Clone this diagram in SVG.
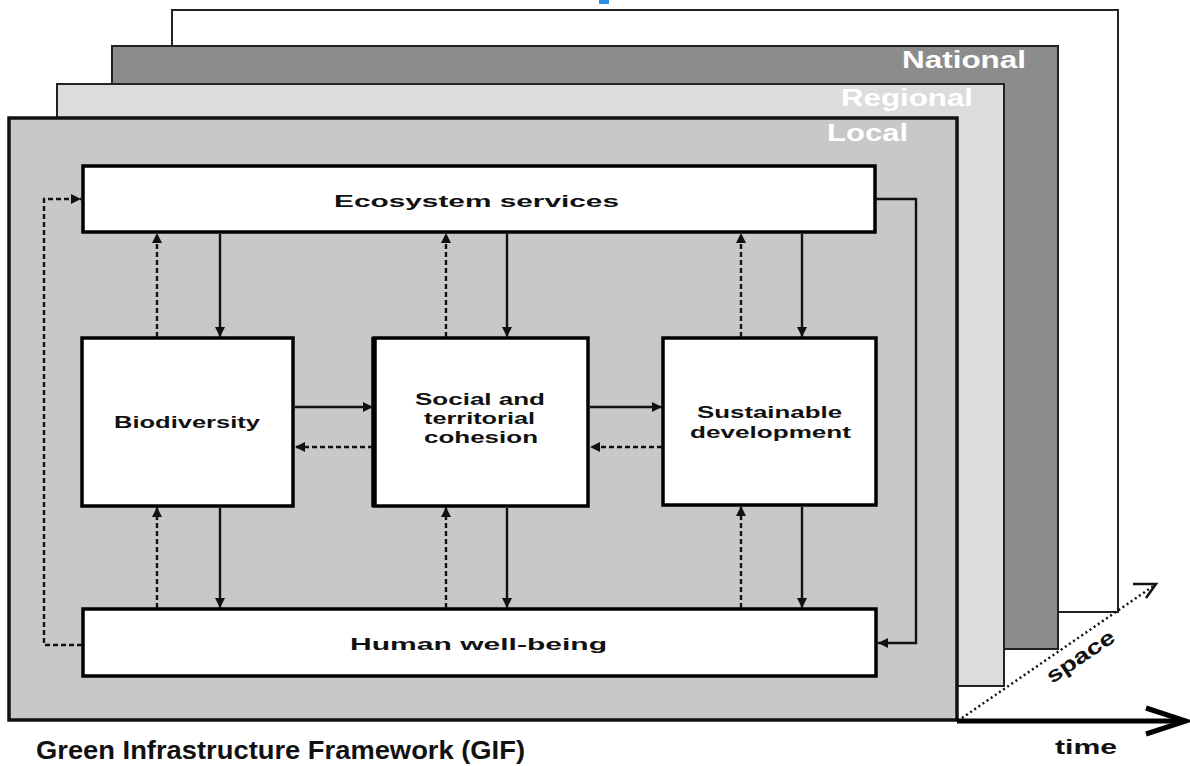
<svg xmlns="http://www.w3.org/2000/svg" width="1190" height="766" viewBox="0 0 1190 766">
  <style>
    text { font-family: "Liberation Sans", Arial, sans-serif; font-weight: bold; }
    .layer { stroke: #222; stroke-width: 2; }
    .box { fill: #fff; stroke: #000; stroke-width: 3.5; }
    .lbl { fill: #111; font-size: 17px; }
    .lvl { fill: #fff; font-size: 23px; }
    .solid { fill: none; stroke: #111; stroke-width: 2.4; }
    .dash { fill: none; stroke: #111; stroke-width: 2.4; stroke-dasharray: 5 3; }
  </style>
  <defs>
    <marker id="tri" viewBox="0 0 10 10" refX="10" refY="5" markerWidth="10" markerHeight="10" markerUnits="userSpaceOnUse" orient="auto">
      <path d="M0,0 L10,5 L0,10 z" fill="#111"/>
    </marker>
  </defs>

  <rect x="0" y="0" width="1190" height="766" fill="#fff"/>
  <rect x="599" y="0" width="10" height="4" fill="#2b8fe3"/>

  <!-- scale layers, back to front -->
  <g id="layer-back">
    <rect class="layer" x="172" y="10" width="946" height="602" fill="#fff" stroke="#555"/>
  </g>
  <g id="layer-national">
    <rect class="layer" x="112" y="46" width="946" height="603" fill="#8c8c8c"/>
    <text class="lvl" x="902" y="68" textLength="124" lengthAdjust="spacingAndGlyphs">National</text>
  </g>
  <g id="layer-regional">
    <rect class="layer" x="57" y="84" width="947" height="602" fill="#dcdcdc"/>
    <text class="lvl" x="841" y="106" textLength="132" lengthAdjust="spacingAndGlyphs" fill="#f6f6f6">Regional</text>
  </g>
  <g id="layer-local">
    <rect x="9" y="118" width="948" height="602" fill="#c8c8c8" stroke="#111" stroke-width="3.5"/>
    <text class="lvl" x="827" y="141" textLength="81" lengthAdjust="spacingAndGlyphs" fill="#f2f2f2">Local</text>
  </g>

  <!-- axes -->
  <g id="axes">
    <line x1="957" y1="721" x2="1184" y2="721" stroke="#000" stroke-width="5"/>
    <polyline points="1146,708 1186,721 1146,734" fill="none" stroke="#000" stroke-width="5" stroke-linejoin="miter"/>
    <line x1="962" y1="718" x2="1155" y2="585" stroke="#111" stroke-width="2.5" stroke-dasharray="2 3"/>
    <polyline points="1133,584 1156,584 1146,598" fill="none" stroke="#111" stroke-width="2.5"/>
    <text x="1055" y="754" font-size="20" fill="#111" textLength="62" lengthAdjust="spacingAndGlyphs">time</text>
    <text x="1052" y="684" font-size="21" fill="#111" textLength="78" lengthAdjust="spacingAndGlyphs" transform="rotate(-34 1052 684)">space</text>
  </g>

  <!-- nodes -->
  <g id="node-ecosystem">
    <rect class="box" x="83" y="166" width="792" height="66"/>
    <text class="lbl" x="334" y="207" font-size="18" textLength="285" lengthAdjust="spacingAndGlyphs">Ecosystem services</text>
  </g>
  <g id="node-biodiversity">
    <rect class="box" x="82" y="338" width="211" height="168"/>
    <text class="lbl" x="114" y="428" textLength="146" lengthAdjust="spacingAndGlyphs">Biodiversity</text>
  </g>
  <g id="node-social">
    <rect class="box" x="374" y="338" width="214" height="168"/>
    <line x1="374" y1="337" x2="374" y2="507" stroke="#000" stroke-width="5.5"/>
    <text class="lbl" x="415" y="405" textLength="130" lengthAdjust="spacingAndGlyphs">Social and</text>
    <text class="lbl" x="424" y="424" textLength="111" lengthAdjust="spacingAndGlyphs">territorial</text>
    <text class="lbl" x="424" y="443" textLength="114" lengthAdjust="spacingAndGlyphs">cohesion</text>
  </g>
  <g id="node-sustainable">
    <rect class="box" x="663" y="338" width="213" height="167"/>
    <text class="lbl" x="697" y="418" textLength="145" lengthAdjust="spacingAndGlyphs">Sustainable</text>
    <text class="lbl" x="690" y="438" textLength="161" lengthAdjust="spacingAndGlyphs">development</text>
  </g>
  <g id="node-wellbeing">
    <rect class="box" x="83" y="609" width="793" height="67"/>
    <text class="lbl" x="350" y="650" textLength="257" lengthAdjust="spacingAndGlyphs">Human well-being</text>
  </g>

  <!-- connectors -->
  <g id="connectors">
    <!-- ecosystem services down to the three pillars -->
    <line class="solid" x1="220" y1="234" x2="220" y2="337" marker-end="url(#tri)"/>
    <line class="solid" x1="507" y1="234" x2="507" y2="337" marker-end="url(#tri)"/>
    <line class="solid" x1="802" y1="234" x2="802" y2="337" marker-end="url(#tri)"/>
    <!-- pillars back up to ecosystem services -->
    <line class="dash" x1="157" y1="337" x2="157" y2="233" marker-end="url(#tri)"/>
    <line class="dash" x1="446" y1="337" x2="446" y2="233" marker-end="url(#tri)"/>
    <line class="dash" x1="741" y1="337" x2="741" y2="233" marker-end="url(#tri)"/>
    <!-- pillars down to human well-being -->
    <line class="solid" x1="220" y1="508" x2="220" y2="608" marker-end="url(#tri)"/>
    <line class="solid" x1="507" y1="508" x2="507" y2="608" marker-end="url(#tri)"/>
    <line class="solid" x1="802" y1="507" x2="802" y2="608" marker-end="url(#tri)"/>
    <!-- human well-being back up to pillars -->
    <line class="dash" x1="157" y1="608" x2="157" y2="507" marker-end="url(#tri)"/>
    <line class="dash" x1="446" y1="608" x2="446" y2="507" marker-end="url(#tri)"/>
    <line class="dash" x1="741" y1="608" x2="741" y2="506" marker-end="url(#tri)"/>
    <!-- between pillars -->
    <line class="solid" x1="295" y1="407" x2="373" y2="407" marker-end="url(#tri)"/>
    <line class="solid" x1="590" y1="407" x2="662" y2="407" marker-end="url(#tri)"/>
    <line class="dash" x1="373" y1="447" x2="295" y2="447" marker-end="url(#tri)"/>
    <line class="dash" x1="662" y1="447" x2="590" y2="447" marker-end="url(#tri)"/>
    <!-- outer loop -->
    <polyline class="solid" points="876,199 916,199 916,643 878,643" marker-end="url(#tri)"/>
    <polyline class="dash" points="82,645 44,645 44,199 81,199" marker-end="url(#tri)"/>
  </g>

  <text x="36" y="759" font-size="25" fill="#111" textLength="489" lengthAdjust="spacingAndGlyphs">Green Infrastructure Framework (GIF)</text>
</svg>
